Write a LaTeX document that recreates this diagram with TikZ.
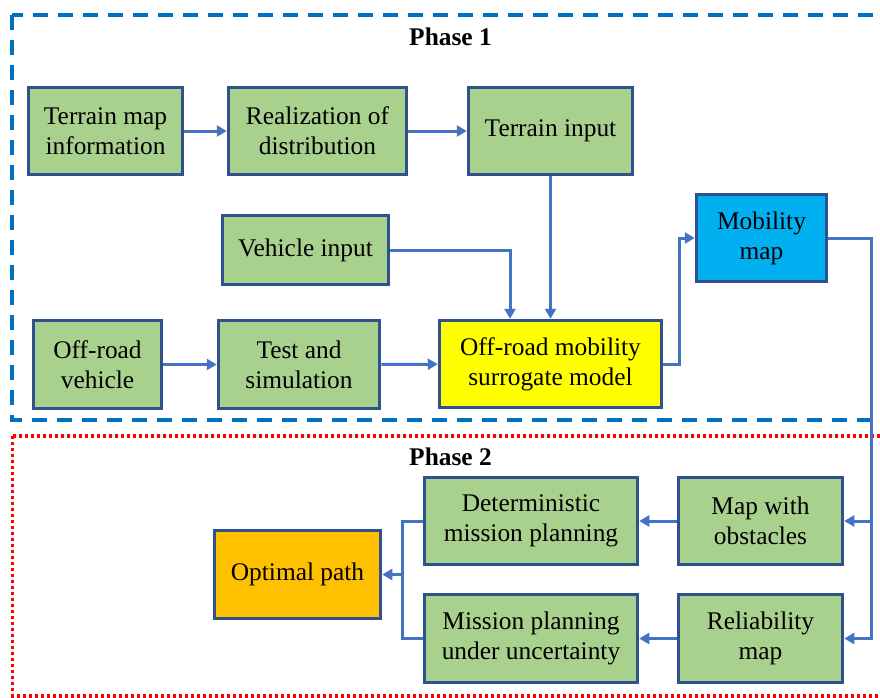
\documentclass[tikz,border=0pt]{standalone}
\usepackage{fontspec}
\setmainfont{Liberation Serif}
\usetikzlibrary{arrows.meta}

\definecolor{boxgreen}{HTML}{A9D18E}
\definecolor{boxedge}{HTML}{2F528F}
\definecolor{linkblue}{HTML}{4472C4}
\definecolor{phaseblue}{HTML}{0070C0}
\definecolor{mapblue}{HTML}{00B0F0}
\definecolor{modelyellow}{HTML}{FFFF00}
\definecolor{pathorange}{HTML}{FFC000}
\definecolor{phasered}{HTML}{FF0000}

\tikzset{
  stagebox/.style={draw=boxedge, line width=3.5pt, fill=boxgreen, align=center,
    inner sep=2pt, font=\fontsize{25.4}{30}\selectfont},
  link/.style={draw=linkblue, line width=3pt},
  arrowlink/.style={link, -{Triangle[length=10pt,width=11pt]}},
  phaselabel/.style={anchor=base, font=\fontsize{25.4}{30}\selectfont\bfseries},
  phaseoneframe/.style={draw=phaseblue, line width=3.5pt, dash pattern=on 15pt off 10pt},
  phasetwoframe/.style={draw=phasered, line width=3.2pt, dash pattern=on 3pt off 3pt}
}

\begin{document}
\begin{tikzpicture}[x=1pt, y=-1pt]
  \useasboundingbox (0,0) rectangle (880,697);
  \clip (0,0) rectangle (880,697);

  % phase frames
  \draw[phaseoneframe] (12,15) rectangle (900,420);
  \draw[phasetwoframe] (12.5,436) rectangle (900,696);
  \node[phaselabel] (p1) at (450.5,45) {Phase 1};
  \node[phaselabel] (p2) at (450.5,465) {Phase 2};

  % phase 1 blocks
  \node[stagebox, minimum width=154pt, minimum height=87pt] (tmi) at (105.5,131) {Terrain map\\information};
  \node[stagebox, minimum width=178pt, minimum height=87pt] (rod) at (317.5,131) {Realization of\\distribution};
  \node[stagebox, minimum width=164pt, minimum height=87pt] (ti)  at (550.5,131) {Terrain input};
  \node[stagebox, minimum width=166pt, minimum height=69pt] (vi)  at (305.5,250) {Vehicle input};
  \node[stagebox, minimum width=128pt, minimum height=88pt] (orv) at (97.5,364.5) {Off-road\\vehicle};
  \node[stagebox, minimum width=161pt, minimum height=88pt] (ts)  at (299,364.5) {Test and\\simulation};
  \node[stagebox, fill=modelyellow, minimum width=222pt, minimum height=87pt] (sm) at (550.5,364) {Off-road mobility\\surrogate model};
  \node[stagebox, fill=mapblue, minimum width=130pt, minimum height=87pt] (mm) at (761.5,238) {Mobility\\map};

  % phase 2 blocks
  \node[stagebox, minimum width=164pt, minimum height=87pt] (mwo) at (760.5,521) {Map with\\obstacles};
  \node[stagebox, minimum width=164pt, minimum height=88pt] (rm)  at (760.5,638.5) {Reliability\\map};
  \node[stagebox, minimum width=213pt, minimum height=87pt] (dmp) at (531,521) {Deterministic\\mission planning};
  \node[stagebox, minimum width=213pt, minimum height=88pt] (mpu) at (531,638.5) {Mission planning\\under uncertainty};
  \node[stagebox, fill=pathorange, minimum width=166pt, minimum height=88pt] (op) at (297.5,574.5) {Optimal path};

  % routing columns
  \coordinate (vicol) at (510,0);
  \coordinate (smcol) at (679,0);
  \coordinate (bus) at (871,0);
  \coordinate (join) at (402,0);

  % phase 1 flow
  \draw[arrowlink] (tmi) -- (rod);
  \draw[arrowlink] (rod) -- (ti);
  \draw[arrowlink] (ti) -- (sm);
  \draw[arrowlink] (vi.east) -| (vicol |- sm.north);
  \draw[arrowlink] (orv) -- (ts);
  \draw[arrowlink] (ts) -- (sm);
  \draw[arrowlink] (sm.east) -| (smcol |- mm.west) -- (mm.west);

  % mobility map feeds both phase 2 maps
  \draw[arrowlink] (mm.east) -| (bus |- rm.east) -- (rm.east);
  \draw[arrowlink] (bus |- mwo.east) -- (mwo.east);

  % phase 2 flow
  \draw[arrowlink] (mwo) -- (dmp);
  \draw[arrowlink] (rm) -- (mpu);
  \draw[link] (dmp.west) -| (join |- mpu.west) -- (mpu.west);
  \draw[arrowlink] (join |- op.east) -- (op.east);
\end{tikzpicture}
\end{document}
